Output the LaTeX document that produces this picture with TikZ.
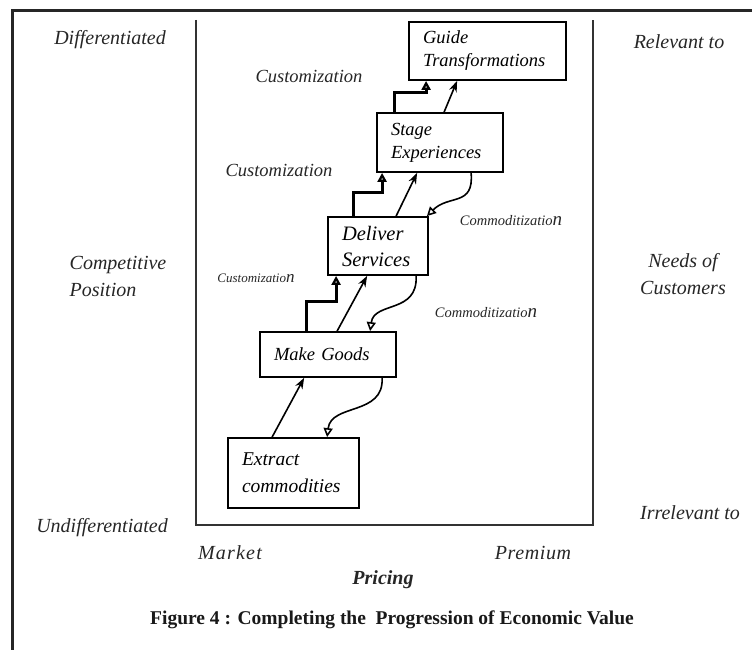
\documentclass[tikz,border=0pt]{standalone}
\usepackage{fontspec}
\setmainfont{Liberation Serif}
\usetikzlibrary{arrows.meta, calc}

\begin{document}
\begin{tikzpicture}[
    x=1pt, y=-1pt,
    >=Stealth,
    stagebox/.style={draw, line width=1.8pt, rectangle, align=left,
                     inner xsep=14pt, inner ysep=0pt,
                     font=\fontsize{18.5}{23}\selectfont\itshape},
    axis/.style={line width=1.8pt, black!80},
    lbl/.style={font=\fontsize{20}{27}\selectfont\itshape, black!85},
    move/.style={font=\fontsize{18.5}{20}\selectfont\itshape, black!85},
    climb/.style={line width=3pt, -{Triangle[open, length=9pt, width=9pt]}},
    lift/.style={line width=1.6pt, -{Stealth[length=11pt, width=8pt]}},
    slide/.style={line width=1.6pt, -{Triangle[open, length=9pt, width=9pt]}}
  ]
  \useasboundingbox (0,0) rectangle (752,650);

  % page frame and the value axes
  \draw[line width=3pt, black!85] (12,650) -- (12,11) -- (752,11);
  \draw[axis] (196,20) -- (196,525) -- (593,525) -- (593,20);

  % the five stages of economic value
  \node[stagebox, text width=129pt, minimum height=58pt] (guide) at (487.5,51)
    {Guide\\Transformations};
  \node[stagebox, text width=98pt, minimum height=59pt] (stage) at (440,142.5)
    {Stage\\Experiences};
  \node[stagebox, text width=72pt, minimum height=58pt,
        font=\fontsize{20.5}{26}\selectfont\itshape] (deliver) at (378,246)
    {Deliver\\Services};
  \node[stagebox, text width=108pt, minimum height=45pt] (make) at (328,354.5)
    {Make Goods};
  \node[stagebox, text width=103pt, minimum height=70pt,
        font=\fontsize{19.5}{27}\selectfont\itshape] (extract) at (293.5,473)
    {Extract\\commodities};

  % side and bottom captions
  \node[lbl] (diff) at (110,40) {Differentiated};
  \node[lbl] (undiff) at (102,528) {Undifferentiated};
  \node[lbl, align=left] (pos) at (118,276) {Competitive\\Position};
  \node[lbl] (relev) at (679,42) {Relevant to};
  \node[lbl, align=center] (needs) at (683,274) {Needs of\\Customers};
  \node[lbl] (irrel) at (690,513) {Irrelevant to};
  \node[lbl, font=\fontsize{20}{22}\selectfont\itshape\addfontfeature{LetterSpace=6}]
    (market) at (230,553) {Market};
  \node[lbl, font=\fontsize{20}{22}\selectfont\itshape\addfontfeature{LetterSpace=3}]
    (premium) at (533,553) {Premium};
  \node[lbl, font=\fontsize{20}{22}\selectfont\bfseries\itshape] (pricing)
    at (383,580) {Pricing};
  \node[font=\fontsize{19.5}{22}\selectfont\bfseries, black!90] (caption) at (392,620)
    {Figure 4 : Completing the\ \ Progression of Economic Value};

  % move labels
  \node[move] (cust1) at (309,76) {Customization};
  \node[move] (cust2) at (279,170) {Customization};
  \node[move, font=\fontsize{13}{15}\selectfont\itshape] (cust3) at (256,278)
    {Customizatio{\fontsize{17}{17}\selectfont n}};
  \node[move, font=\fontsize{14.5}{16}\selectfont\itshape] (comm1) at (511,221)
    {Commoditizatio{\fontsize{19}{19}\selectfont n}};
  \node[move, font=\fontsize{14.5}{16}\selectfont\itshape] (comm2) at (486,313)
    {Commoditizatio{\fontsize{19}{19}\selectfont n}};

  % straight moves up
  \draw[lift] ([xshift=45pt]extract.north west) -- ([xshift=45pt]make.south west);
  \draw[lift] ([xshift=78pt]make.north west) -- ([xshift=40pt]deliver.south west);
  \draw[lift] ([xshift=69pt]deliver.north west) -- ([xshift=41pt]stage.south west);
  \draw[lift] ([xshift=68pt]stage.north west) -- ([xshift=49pt]guide.south west);

  % customization steps
  \draw[climb] ([xshift=47pt]make.north west) -- ++(0,-30)
    -| ([xshift=9pt]deliver.south west);
  \draw[climb] ([xshift=26pt]deliver.north west) -- ++(0,-24)
    -| ([xshift=6pt]stage.south west);
  \draw[climb] ([xshift=18pt]stage.north west) -- ++(0,-20)
    -| ([xshift=18pt]guide.south west);

  % commoditization slides back down
  \draw[slide] ([xshift=95pt]stage.south west)
    .. controls +(3,34) and +(22,-22) .. ([xshift=-2pt]deliver.north east);
  \draw[slide] ([xshift=89pt]deliver.south west)
    .. controls +(2,38) and +(4,-30) .. ([xshift=111pt]make.north west);
  \draw[slide] ([xshift=123pt]make.south west)
    .. controls +(2,38) and +(4,-34) .. ([xshift=100pt]extract.north west);
\end{tikzpicture}
\end{document}
